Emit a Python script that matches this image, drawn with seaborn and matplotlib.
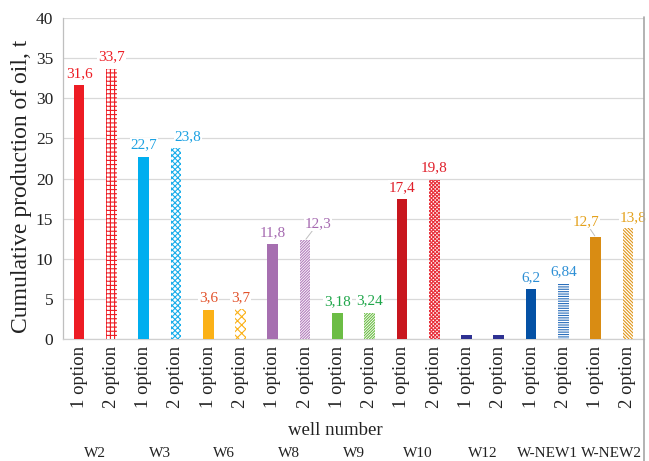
import pandas as pd
import matplotlib
matplotlib.use('Agg')
import matplotlib.pyplot as plt
from matplotlib.lines import Line2D
import seaborn as sns

wells = ['W2', 'W3', 'W6', 'W8', 'W9', 'W10', 'W12', 'W-NEW1', 'W-NEW2']
options = ['1 option', '2 option']
option1 = [31.6, 22.7, 3.6, 11.8, 3.18, 17.4, 0.5, 6.2, 12.7]
option2 = [33.7, 23.8, 3.7, 12.3, 3.24, 19.8, 0.5, 6.84, 13.8]
show_label = [True, True, True, True, True, True, False, True, True]

colors1 = ['#ED1C24', '#00AEEF', '#FBB117', '#A66FB0', '#6CBD45',
           '#C8161E', '#2E3192', '#0451A5', '#D98C13']
colors2 = ['#ED1C24', '#1AAEEA', '#FBB117', '#B27CBC', '#6CBD45',
           '#E8303A', '#2E3192', '#2A6EBB', '#E0961A']
hatches2 = ['++++', 'xxxxxx', 'xxxx', '////////////', '////////////', 'xxxxxxxxx',
            None, '-------', '\\\\\\\\\\\\\\\\\\\\']
label_colors = ['#ED1C24', '#1BA1E2', '#E2522B', '#A569B0', '#1FA64A',
                '#E01F2A', '#2E3192', '#2D8FD5', '#E4A11B']

# build long table, one row per bar
rows = []
for i, w in enumerate(wells):
    for j, (opt, vals, cols) in enumerate(zip(options, [option1, option2], [colors1, colors2])):
        rows.append({'key': w + '|' + opt, 'well': w, 'option': opt, 'value': vals[i],
                     'color': cols[i], 'hatch': hatches2[i] if j == 1 else None,
                     'label': show_label[i], 'lcolor': label_colors[i]})
df = pd.DataFrame(rows)

sns.set_style('white')
plt.rcParams['font.family'] = ['Liberation Serif', 'DejaVu Serif']
plt.rcParams['hatch.linewidth'] = 0.8

fig = plt.figure(figsize=(6.49, 4.61), dpi=100)
ax = fig.add_axes([63 / 649, 1 - 339 / 461, 581 / 649, 321 / 461])

sns.barplot(data=df, x='key', y='value', hue='key', palette=dict(zip(df['key'], df['color'])),
            width=0.33, saturation=1, linewidth=0, legend=False, ax=ax, zorder=3)

# special label offsets (pixels) and leader lines
offsets = {3: (12, 11), 7: (13, 17), 16: (-10, 15), 17: (5, 11)}
leaders = {7, 16}

for k, cont in enumerate(ax.containers):
    bar = cont[0]
    r = df.iloc[k]
    if r['hatch']:
        bar.set_facecolor('white')
        bar.set_edgecolor(r['color'])
        bar.set_hatch(r['hatch'])
        bar.set_linewidth(0)
    if r['label']:
        txt = ('%g' % r['value']).replace('.', ',')
        dx, dy = offsets.get(k, (0, 12))
        ap = dict(arrowstyle='-', color='#BFBFBF', lw=0.7, shrinkA=0, shrinkB=1) if k in leaders else None
        ax.annotate(txt, xy=(bar.get_x() + bar.get_width() / 2, bar.get_height()),
                    xytext=(dx, dy), textcoords='offset pixels', ha='center', va='center',
                    fontsize=11, color=r['lcolor'], zorder=5, arrowprops=ap,
                    bbox=dict(fc='white', ec='none', pad=0.5))

ax.set_ylim(0, 40)
ax.set_xlim(-0.5, len(df) - 0.5)
ax.set_yticks(range(0, 41, 5))
ax.set_xticks(range(len(df)))
ax.set_xticklabels(df['option'], rotation=90)
ax.tick_params(axis='x', length=0, pad=5, labelsize=13.5, labelcolor='#222222')
ax.tick_params(axis='y', length=0, pad=7, labelsize=12.5, labelcolor='#222222')
ax.yaxis.grid(True, color='#D9D9D9', lw=0.9, zorder=0)
ax.set_axisbelow(True)

ax.spines['top'].set_visible(False)
ax.spines['right'].set_visible(False)
ax.spines['left'].set_color('#BFBFBF')
ax.spines['bottom'].set_color('#D0D0D0')
ax.spines['left'].set_linewidth(0.9)
ax.spines['bottom'].set_linewidth(0.9)

ax.set_ylabel('Cumulative production of oil, t', fontsize=17, color='#222222')
ax.yaxis.set_label_coords(-0.053, 0.477)
ax.set_xlabel('well number', fontsize=13.5, color='#222222')
ax.xaxis.set_label_coords((335 - 63) / 581, (339 - 430) / 321)
ax.xaxis.label.set_va('center')

for i, w in enumerate(wells):
    ax.text(2 * i + 0.5, (339 - 453) / 321, w, transform=ax.get_xaxis_transform(),
            ha='center', va='center', fontsize=11, color='#222222')

# chart border on the right
fig.add_artist(Line2D([644 / 649, 644 / 649], [0, 1 - 17 / 461], transform=fig.transFigure,
                      color='#A6A6A6', lw=1.2))

fig.savefig('out.png', dpi=100)
